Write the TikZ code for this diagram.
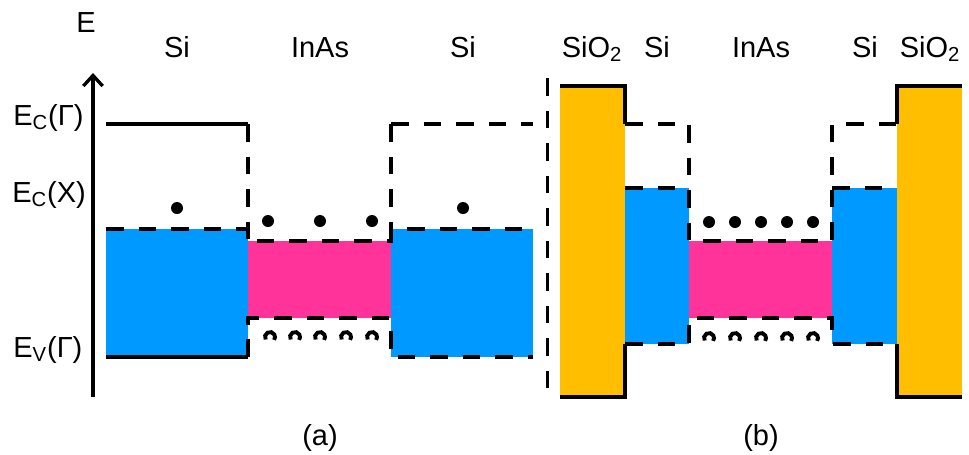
\documentclass[tikz,border=0pt]{standalone}
\usepackage{fontspec}
\setmainfont{Liberation Sans}
\usepackage{xcolor}
\usepackage{tikz}
\usetikzlibrary{arrows.meta,positioning}
\definecolor{siblue}{HTML}{0099FF}
\definecolor{inaspink}{HTML}{FF3399}
\definecolor{oxorange}{HTML}{FFBF00}
\tikzstyle{edge} = [line width=2.2pt]
\tikzstyle{offset} = [line width=2.2pt, dash pattern=on 10pt off 8.5pt]
\tikzstyle{lbl} = [font=\fontsize{16.5}{18}\selectfont, inner sep=0pt, anchor=base]
\tikzstyle{electron} = [fill=black]

\begin{document}
\begin{tikzpicture}[x=0.02cm, y=-0.02cm]
  \useasboundingbox (0,0) rectangle (969,454);
  % (a)
  \fill[siblue] (106,229) rectangle (248,357);
  \fill[inaspink] (248,241) rectangle (391,318);
  \fill[siblue] (391,229) rectangle (533,357);
  \draw[edge] (106,124) -- (248,124);
  \draw[edge] (106,357) -- (248,357);
  \draw[offset] (248,124) -- (248,241);
  \draw[offset] (391,124) -- (533,124);
  \draw[offset] (391,124) -- (391,229);
  \draw[offset] (106,229) -- (248,229) -- (248,241) -- (391,241) -- (391,229) -- (533,229);
  \draw[offset] (248,357) -- (248,318) -- (391,318) -- (391,357) -- (533,357);
  \foreach \ex in {177,463} \fill[electron] (\ex,208) circle (6);
  \foreach \ex in {268,320,372} \fill[electron] (\ex,221) circle (6);
  \foreach \hx in {270,295,320,346,372}
    \draw[edge] ([shift={(150:5)}]\hx,337) arc (150:395:5);
  \coordinate (axisbot) at (93,397);
  \coordinate (axistop) at (93,73);
  \draw[line width=1.9pt, -{Straight Barb[length=6pt,width=11pt,line width=1.9pt]}] (axisbot) -- (axistop);
  \node[lbl] (elabel) at (86,32) {E};
  \node[lbl, anchor=base west] (ecgamma) at (13,125) {E\textsubscript{C}(Γ)};
  \node[lbl, anchor=base west] (ecx) at (12,202) {E\textsubscript{C}(X)};
  \node[lbl, anchor=base west] (evgamma) at (13,357) {E\textsubscript{V}(Γ)};
  \node[lbl] (sileftA) at (177,57) {Si};
  \node[lbl] (inasA) at (320,57) {InAs};
  \node[lbl] (sirightA) at (463,57) {Si};
  \node[lbl] (capA) at (320,445) {(a)};
  % separator
  \draw[line width=1.7pt, dash pattern=on 10pt off 8.5pt] (547,78) -- (547,397);
  % (b)
  \fill[oxorange] (560,86) rectangle (625,397);
  \fill[oxorange] (897,86) rectangle (962,397);
  \fill[siblue] (625,188) rectangle (689,344);
  \fill[siblue] (832,188) rectangle (897,344);
  \fill[inaspink] (689,241) rectangle (832,318);
  \draw[edge] (560,86) -- (625,86) -- (625,124);
  \draw[edge] (962,86) -- (897,86) -- (897,124);
  \draw[edge] (560,397) -- (625,397) -- (625,344);
  \draw[edge] (962,397) -- (897,397) -- (897,344);
  \draw[offset] (625,124) -- (689,124) -- (689,241) -- (832,241) -- (832,124) -- (897,124);
  \draw[offset] (625,188) -- (689,188);
  \draw[offset] (832,188) -- (897,188);
  \draw[offset] (625,344) -- (689,344) -- (689,318) -- (832,318) -- (832,344) -- (897,344);
  \foreach \ex in {709,735,761,787,813} \fill[electron] (\ex,222) circle (6);
  \foreach \hx in {709,735,761,787,813}
    \draw[edge] ([shift={(150:5)}]\hx,338) arc (150:395:5);
  \node[lbl] (oxleftB) at (592,57) {SiO\textsubscript{2}};
  \node[lbl] (sileftB) at (657,57) {Si};
  \node[lbl] (inasB) at (761,57) {InAs};
  \node[lbl] (sirightB) at (865,57) {Si};
  \node[lbl] (oxrightB) at (930,57) {SiO\textsubscript{2}};
  \node[lbl] (capB) at (761,445) {(b)};
\end{tikzpicture}
\end{document}
